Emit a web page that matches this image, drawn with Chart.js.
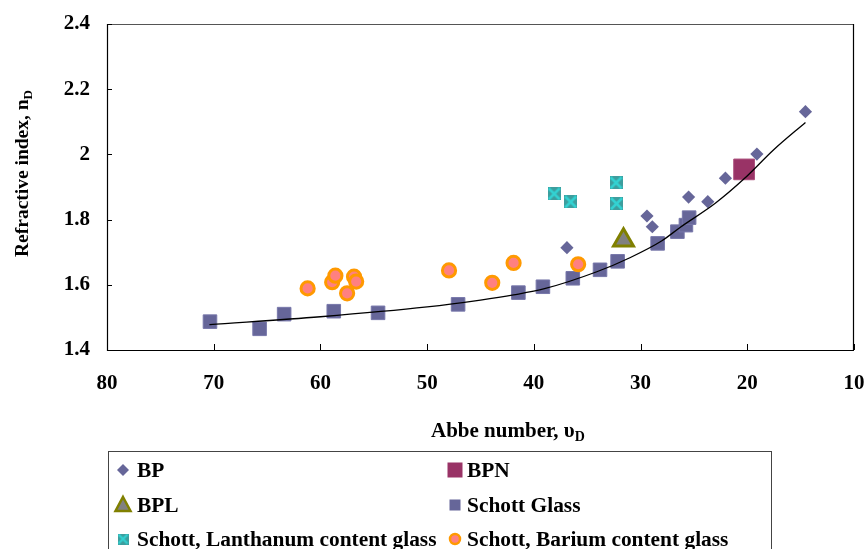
<!DOCTYPE html>
<html><head><meta charset="utf-8">
<script src="https://cdn.jsdelivr.net/npm/chart.js@4/dist/chart.umd.min.js"></script>
<style>html,body{margin:0;padding:0;background:#fff}#wrap{width:864px;height:549px;position:relative}</style>
</head><body><div id="wrap"><canvas id="c" width="864" height="549"></canvas></div>
<script>
// ---- data ----
const xTickValues = [80, 70, 60, 50, 40, 30, 20, 10];
const yTickValues = [1.4, 1.6, 1.8, 2.0, 2.2, 2.4];
const yTickLabels = ['1.4', '1.6', '1.8', '2', '2.2', '2.4'];

const seriesNames = ['BP', 'BPN', 'BPL', 'Schott Glass', 'Schott, Lanthanum content glass', 'Schott, Barium content glass'];

const bpX = [36.9, 29.4, 28.9, 25.5, 23.7, 22.05, 19.1, 14.55];
const bpY = [1.714, 1.811, 1.778, 1.869, 1.855, 1.927, 2.001, 2.131];
const bpnX = [20.3];
const bpnY = [1.954];
const bplX = [31.6];
const bplY = [1.737];
const schottX = [70.35, 65.7, 63.4, 58.75, 54.6, 47.1, 41.45, 39.15, 36.35, 33.8, 32.15, 28.4, 26.55, 25.75, 25.45];
const schottY = [1.487, 1.465, 1.510, 1.519, 1.514, 1.540, 1.576, 1.594, 1.620, 1.646, 1.672, 1.727, 1.763, 1.783, 1.806];
const lanX = [38.1, 36.55, 32.3, 32.25];
const lanY = [1.879, 1.854, 1.913, 1.849];
const barX = [61.2, 58.9, 58.6, 57.5, 56.85, 56.65, 47.95, 43.9, 41.9, 35.85];
const barY = [1.589, 1.608, 1.628, 1.574, 1.625, 1.610, 1.644, 1.606, 1.667, 1.663];
const trendX = [70.4, 60, 50, 45, 41.9, 39, 34.1, 31, 28, 26.3, 23, 20.3, 17.5, 14.55];
const trendY = [1.478, 1.502, 1.532, 1.553, 1.569, 1.588, 1.640, 1.683, 1.735, 1.776, 1.85, 1.925, 2.015, 2.098];

const xTitle = 'Abbe number, \u03C5';
const xTitleSub = 'D';
const yTitle = 'Refractive index, n';
const yTitleSub = 'D';

// ---- helpers ----
const pts = (xs, ys) => xs.map((x, i) => ({x: x, y: ys[i]}));
const FONT = '"Liberation Serif", "Times New Roman", serif';
const FS = 21;

function makeLanMarker(size) {
  const cv = document.createElement('canvas');
  cv.width = size; cv.height = size;
  const g = cv.getContext('2d');
  g.fillStyle = '#3d9e9e';
  g.fillRect(0, 0, size, size);
  g.strokeStyle = '#33d2d2';
  g.lineWidth = size / 5;
  g.beginPath();
  g.moveTo(1, 1); g.lineTo(size - 1, size - 1);
  g.moveTo(size - 1, 1); g.lineTo(1, size - 1);
  g.stroke();
  return cv;
}
const lanMarker = makeLanMarker(13);
const lanMarkerLegend = makeLanMarker(11);

const styles = [
  {pointStyle: 'rectRot', radius: 6.6, bg: '#666699', border: '#666699', bw: 0},
  {pointStyle: 'rect', radius: 14.6, bg: '#993366', border: '#a94a78', bw: 1},
  {pointStyle: 'triangle', radius: 11.5, bg: '#808080', border: '#808000', bw: 3},
  {pointStyle: 'rect', radius: 9.6, bg: '#666699', border: '#7777aa', bw: 1},
  {pointStyle: lanMarker, radius: 7, bg: '#3d9e9e', border: '#3d9e9e', bw: 0},
  {pointStyle: 'circle', radius: 6.6, bg: '#ff8080', border: '#ff9900', bw: 3}
];
const seriesData = [pts(bpX, bpY), pts(bpnX, bpnY), pts(bplX, bplY), pts(schottX, schottY), pts(lanX, lanY), pts(barX, barY)];

const datasets = seriesNames.map((name, i) => ({
  label: name,
  data: seriesData[i],
  pointStyle: styles[i].pointStyle,
  pointRadius: styles[i].radius,
  pointHoverRadius: styles[i].radius,
  backgroundColor: styles[i].bg,
  borderColor: styles[i].border,
  pointBorderWidth: styles[i].bw,
  showLine: false,
  order: 6 - i
}));
datasets.push({
  label: 'trend',
  data: pts(trendX, trendY),
  showLine: true,
  pointRadius: 0,
  borderColor: '#000',
  borderWidth: 1.3,
  cubicInterpolationMode: 'monotone',
  fill: false,
  order: 0
});

function drawMarker(ctx, kind, x, y) {
  ctx.save();
  if (kind === 0) { // diamond
    ctx.fillStyle = '#666699';
    ctx.beginPath(); ctx.moveTo(x, y - 6); ctx.lineTo(x + 6, y); ctx.lineTo(x, y + 6); ctx.lineTo(x - 6, y); ctx.closePath(); ctx.fill();
  } else if (kind === 1) {
    ctx.fillStyle = '#993366'; ctx.fillRect(x - 7.5, y - 7.5, 15, 15);
  } else if (kind === 2) {
    ctx.fillStyle = '#808080'; ctx.strokeStyle = '#808000'; ctx.lineWidth = 2.5;
    ctx.beginPath(); ctx.moveTo(x, y - 8); ctx.lineTo(x + 7.5, y + 6); ctx.lineTo(x - 7.5, y + 6); ctx.closePath(); ctx.fill(); ctx.stroke();
  } else if (kind === 3) {
    ctx.fillStyle = '#666699'; ctx.fillRect(x - 5.5, y - 5.5, 11, 11);
  } else if (kind === 4) {
    ctx.drawImage(lanMarkerLegend, x - 5.5, y - 5.5);
  } else if (kind === 5) {
    ctx.fillStyle = '#ff8080'; ctx.strokeStyle = '#ff9900'; ctx.lineWidth = 2.5;
    ctx.beginPath(); ctx.arc(x, y, 5, 0, Math.PI * 2); ctx.fill(); ctx.stroke();
  }
  ctx.restore();
}

const framePlugin = {
  id: 'frame',
  beforeDraw(chart) {
    const ctx = chart.ctx;
    ctx.save(); ctx.fillStyle = '#fff'; ctx.fillRect(0, 0, chart.width, chart.height); ctx.restore();
  },
  afterDraw(chart) {
    const ctx = chart.ctx;
    const a = chart.chartArea;
    const xs = chart.scales.x, ys = chart.scales.y;
    ctx.save();
    // frame
    ctx.lineWidth = 1.2;
    ctx.strokeStyle = '#555';
    ctx.beginPath(); ctx.moveTo(a.left, a.top + 0.5); ctx.lineTo(a.right, a.top + 0.5); ctx.stroke();
    ctx.strokeStyle = '#000';
    ctx.beginPath(); ctx.moveTo(a.right - 0.5, a.top); ctx.lineTo(a.right - 0.5, a.bottom); ctx.stroke();
    ctx.beginPath(); ctx.moveTo(a.left + 0.5, a.top); ctx.lineTo(a.left + 0.5, a.bottom + 0.5); ctx.lineTo(a.right, a.bottom + 0.5); ctx.stroke();
    // inward ticks
    ctx.lineWidth = 1;
    xTickValues.forEach(v => {
      const px = Math.round(xs.getPixelForValue(v)) + 0.5;
      ctx.beginPath(); ctx.moveTo(px, a.bottom); ctx.lineTo(px, a.bottom - 6); ctx.stroke();
    });
    yTickValues.forEach(v => {
      const py = Math.round(ys.getPixelForValue(v)) + 0.5;
      ctx.beginPath(); ctx.moveTo(a.left, py); ctx.lineTo(a.left + 5, py); ctx.stroke();
    });
    // axis titles
    ctx.fillStyle = '#000';
    ctx.textBaseline = 'alphabetic';
    ctx.textAlign = 'left';
    ctx.font = 'bold ' + FS + 'px ' + FONT;
    const xw = ctx.measureText(xTitle).width;
    const xl = 431;
    ctx.fillText(xTitle, xl, 437);
    ctx.font = 'bold 14px ' + FONT;
    ctx.fillText(xTitleSub, xl + xw, 441);
    ctx.save();
    ctx.translate(28, 257);
    ctx.rotate(-Math.PI / 2);
    ctx.font = 'bold 19.5px ' + FONT;
    const yw = ctx.measureText(yTitle).width;
    ctx.fillText(yTitle, 0, 0);
    ctx.font = 'bold 13px ' + FONT;
    ctx.fillText(yTitleSub, yw, 4);
    ctx.restore();
    // legend
    ctx.strokeStyle = '#444';
    ctx.lineWidth = 1;
    ctx.strokeRect(108.5, 451.5, 663, 120);
    const rows = [470, 505, 539];
    const cols = [{m: 123, t: 137}, {m: 455, t: 467}];
    ctx.font = 'bold 21.4px ' + FONT;
    ctx.textBaseline = 'middle';
    seriesNames.forEach((name, i) => {
      const c = cols[i % 2], r = rows[Math.floor(i / 2)];
      drawMarker(ctx, i, c.m, r);
      ctx.fillStyle = '#000';
      ctx.fillText(name, c.t, r + 1);
    });
    ctx.restore();
  }
};

new Chart(document.getElementById('c'), {
  type: 'scatter',
  data: {datasets: datasets},
  options: {
    responsive: false,
    animation: false,
    devicePixelRatio: 1,
    layout: {autoPadding: false, padding: {top: 24, right: 10, left: 0, bottom: 0}},
    plugins: {legend: {display: false}, tooltip: {enabled: false}},
    scales: {
      x: {
        type: 'linear', reverse: true, min: 10, max: 80,
        afterBuildTicks: s => { s.ticks = xTickValues.map(v => ({value: v})); },
        afterFit: s => { s.height = 199; s.paddingLeft = 0; s.paddingRight = 0; },
        grid: {display: false, drawTicks: false},
        border: {display: false},
        ticks: {font: {family: FONT, size: FS, weight: 'bold'}, color: '#000', padding: 21, maxRotation: 0, autoSkip: false,
                callback: v => String(v)}
      },
      y: {
        type: 'linear', min: 1.4, max: 2.4,
        afterBuildTicks: s => { s.ticks = yTickValues.map(v => ({value: v})); },
        afterFit: s => { s.width = 107; s.paddingTop = 0; s.paddingBottom = 0; },
        grid: {display: false, drawTicks: false},
        border: {display: false},
        ticks: {font: {family: FONT, size: FS, weight: 'bold'}, color: '#000', padding: 17, autoSkip: false,
                callback: (v) => { const k = yTickValues.findIndex(t => Math.abs(t - v) < 1e-6); return k >= 0 ? yTickLabels[k] : ''; }}
      }
    }
  },
  plugins: [framePlugin]
});
</script></body></html>
